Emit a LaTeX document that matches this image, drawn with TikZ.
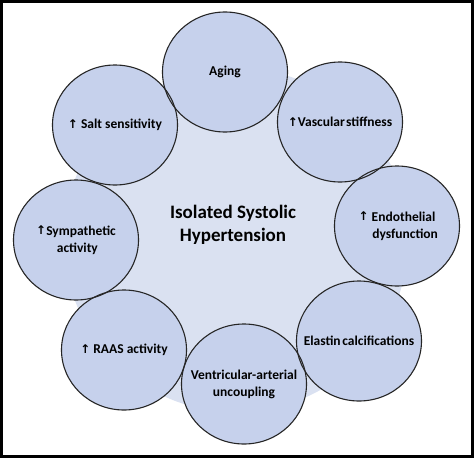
\documentclass[tikz,border=0pt]{standalone}
\usepackage{fontspec}
\setmainfont{Carlito}
\newfontfamily\arrowfont{DejaVu Sans}
\definecolor{cfill}{RGB}{198,209,236}
\definecolor{dfill}{RGB}{218,225,241}
\newcommand{\uparr}{{\arrowfont\fontsize{12}{12}\selectfont\raisebox{0.3pt}{↑}}}
\begin{document}
\begin{tikzpicture}[x=1pt,y=-1pt,
  bub/.style={inner sep=0pt,align=center,font=\bfseries\fontsize{13.5}{17}\selectfont},
  ring/.style={draw=black!85,line width=1.1pt},
  disc/.style={fill=cfill}]
\useasboundingbox (0,0) rectangle (474,458);
\fill[white] (0,0) rectangle (474,458);
\draw[line width=3pt] (1.5,1.5) rectangle (472.5,456.5);
\fill[dfill] (236,240) circle (172);
\coordinate (aging) at (225,72);
\coordinate (salt) at (115,125);
\coordinate (vasc) at (340,122);
\coordinate (endo) at (397,226);
\coordinate (symp) at (76,240);
\coordinate (elas) at (359,341);
\coordinate (raas) at (124,350);
\coordinate (vent) at (244,384);
\foreach \n in {aging,salt,vasc,endo,symp,elas,raas,vent}
  \fill[disc] (\n) ellipse [x radius=62.5, y radius=60];
\foreach \n in {aging,salt,vasc,endo,symp,elas,raas,vent}
  \draw[ring] (\n) ellipse [x radius=62.5, y radius=60];
\node[bub] (taging) at (aging) {Aging};
\node[bub] (tsalt) at (salt) {\uparr\ Salt sensitivity};
\node[bub] (tvasc) at (vasc) {\uparr Vascular\hspace{0.1em}stiffness};
\node[bub] (tendo) at (endo) {\uparr\ Endothelial\\\hspace*{1.2em}dysfunction};
\node[bub] (tsymp) at (symp) {\uparr Sympathetic\\\hspace*{0.2em}activity};
\node[bub] (telas) at (elas) {Elastin\hspace{0.12em}calcifications};
\node[bub] (traas) at (raas) {\uparr\ RAAS activity};
\node[bub] (tvent) at (vent) {Ventricular-arterial\\uncoupling};
\node[font=\bfseries\fontsize{19}{23}\selectfont,align=center] (isp) at (233,225) {Isolated Systolic\\Hypertension};
\end{tikzpicture}
\end{document}
